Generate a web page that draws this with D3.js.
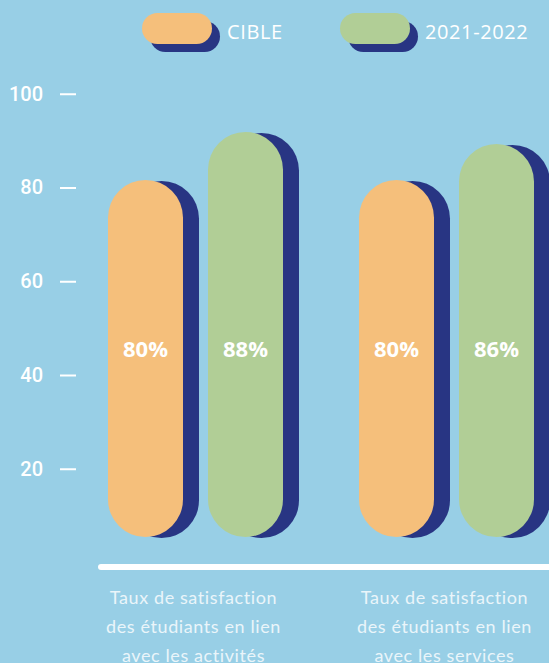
<!DOCTYPE html>
<html>
<head>
<meta charset="utf-8">
<script src="https://cdn.jsdelivr.net/npm/d3@7"></script>
<style>
html,body{margin:0;padding:0;background:#98cfe6;}
svg{display:block;}
</style>
</head>
<body>
<svg id="chart" width="549" height="663"></svg>
<script>
const categories = [
  ["Taux de satisfaction", "des étudiants en lien", "avec les activités"],
  ["Taux de satisfaction", "des étudiants en lien", "avec les services"]
];
const categoryKeys = ["activites", "services"];
const seriesNames = ["CIBLE", "2021-2022"];
const cibleValues = [80, 80];
const anneeValues = [88, 86];
const tickValues = [20, 40, 60, 80, 100];

const colors = {bg:"#98cfe6", cible:"#f5bf7b", annee:"#b1ce96", shadow:"#283583", white:"#ffffff"};

const svg = d3.select("#chart");
const W = 549, H = 663;
svg.append("rect").attr("width", W).attr("height", H).attr("fill", colors.bg);

// axis scale (ticks)
const yAxis = d3.scaleLinear().domain([0, 100]).range([562.5, 93.75]);
// bar scale (decorative pill tops)
const yBar = d3.scaleLinear().domain([0, 100]).range([660, 60]);
const barBottom = 537;

const xGroup = d3.scalePoint().domain(categoryKeys).range([195.5, 446.5]);
const xSeries = d3.scalePoint().domain(seriesNames).range([-50, 50]);
const barW = 75, shadowDx = 16, shadowDy = 1;

// axis
const axisG = svg.append("g").attr("transform", "translate(76,0)");
const axis = d3.axisLeft(yAxis).tickValues(tickValues).tickSize(16).tickPadding(17).tickFormat(d3.format("d"));
axisG.call(axis);
axisG.select(".domain").remove();
axisG.selectAll(".tick line").attr("stroke", colors.white).attr("stroke-width", 2);
axisG.selectAll(".tick text").attr("fill", colors.white)
  .style("font-family", "Roboto, sans-serif").style("font-size", "20px").style("font-weight", 500);

// baseline
svg.append("line").attr("x1", 101).attr("x2", 560).attr("y1", 567).attr("y2", 567)
  .attr("stroke", colors.white).attr("stroke-width", 6).attr("stroke-linecap", "round");

const data = [];
categoryKeys.forEach((k, i) => {
  data.push({cat: k, series: "CIBLE", value: cibleValues[i], color: colors.cible});
  data.push({cat: k, series: "2021-2022", value: anneeValues[i], color: colors.annee});
});

function pill(x, y0, y1, w) {
  const r = w / 2;
  return `M${x},${y0 + r} A${r},${r} 0 0 1 ${x + w},${y0 + r} L${x + w},${y1 - r} A${r},${r} 0 0 1 ${x},${y1 - r} Z`;
}

const bars = svg.append("g");
data.forEach(d => {
  const cx = xGroup(d.cat) + xSeries(d.series);
  const x = cx - barW / 2;
  const top = yBar(d.value);
  bars.append("path").attr("d", pill(x + shadowDx, top + shadowDy, barBottom + shadowDy, barW)).attr("fill", colors.shadow);
  bars.append("path").attr("d", pill(x, top, barBottom, barW)).attr("fill", d.color);
  bars.append("text").attr("x", cx).attr("y", 348).attr("text-anchor", "middle").attr("dominant-baseline", "central")
    .attr("fill", colors.white).style("font-family", "'Open Sans', sans-serif").style("font-size", "22px").style("font-weight", 700)
    .text(d.value + "%");
});

// category labels
const labG = svg.append("g");
categories.forEach((lines, i) => {
  const t = labG.append("text").attr("text-anchor", "middle").attr("fill", "#eaf5fa")
    .style("font-family", "Lato, sans-serif").style("font-size", "18px").style("font-weight", 400)
    .style("letter-spacing", "0.6px");
  lines.forEach((ln, j) => {
    t.append("tspan").attr("x", xGroup(categoryKeys[i]) - 2).attr("y", 604 + j * 29).text(ln);
  });
});

// legend
const legendX = [142, 340];
const legendColors = [colors.cible, colors.annee];
seriesNames.forEach((s, i) => {
  const g = svg.append("g").attr("transform", `translate(${legendX[i]},13)`);
  g.append("rect").attr("x", 8).attr("y", 8).attr("width", 70).attr("height", 31).attr("rx", 15.5).attr("fill", colors.shadow);
  g.append("rect").attr("x", 0).attr("y", 0).attr("width", 70).attr("height", 31).attr("rx", 15.5).attr("fill", legendColors[i]);
  g.append("text").attr("x", 85).attr("y", 18).attr("dominant-baseline", "central").attr("fill", colors.white)
    .style("font-family", "'Open Sans', sans-serif").style("font-size", "20px").style("font-weight", 400)
    .style("letter-spacing", "0.6px").text(s);
});
</script>
</body>
</html>
